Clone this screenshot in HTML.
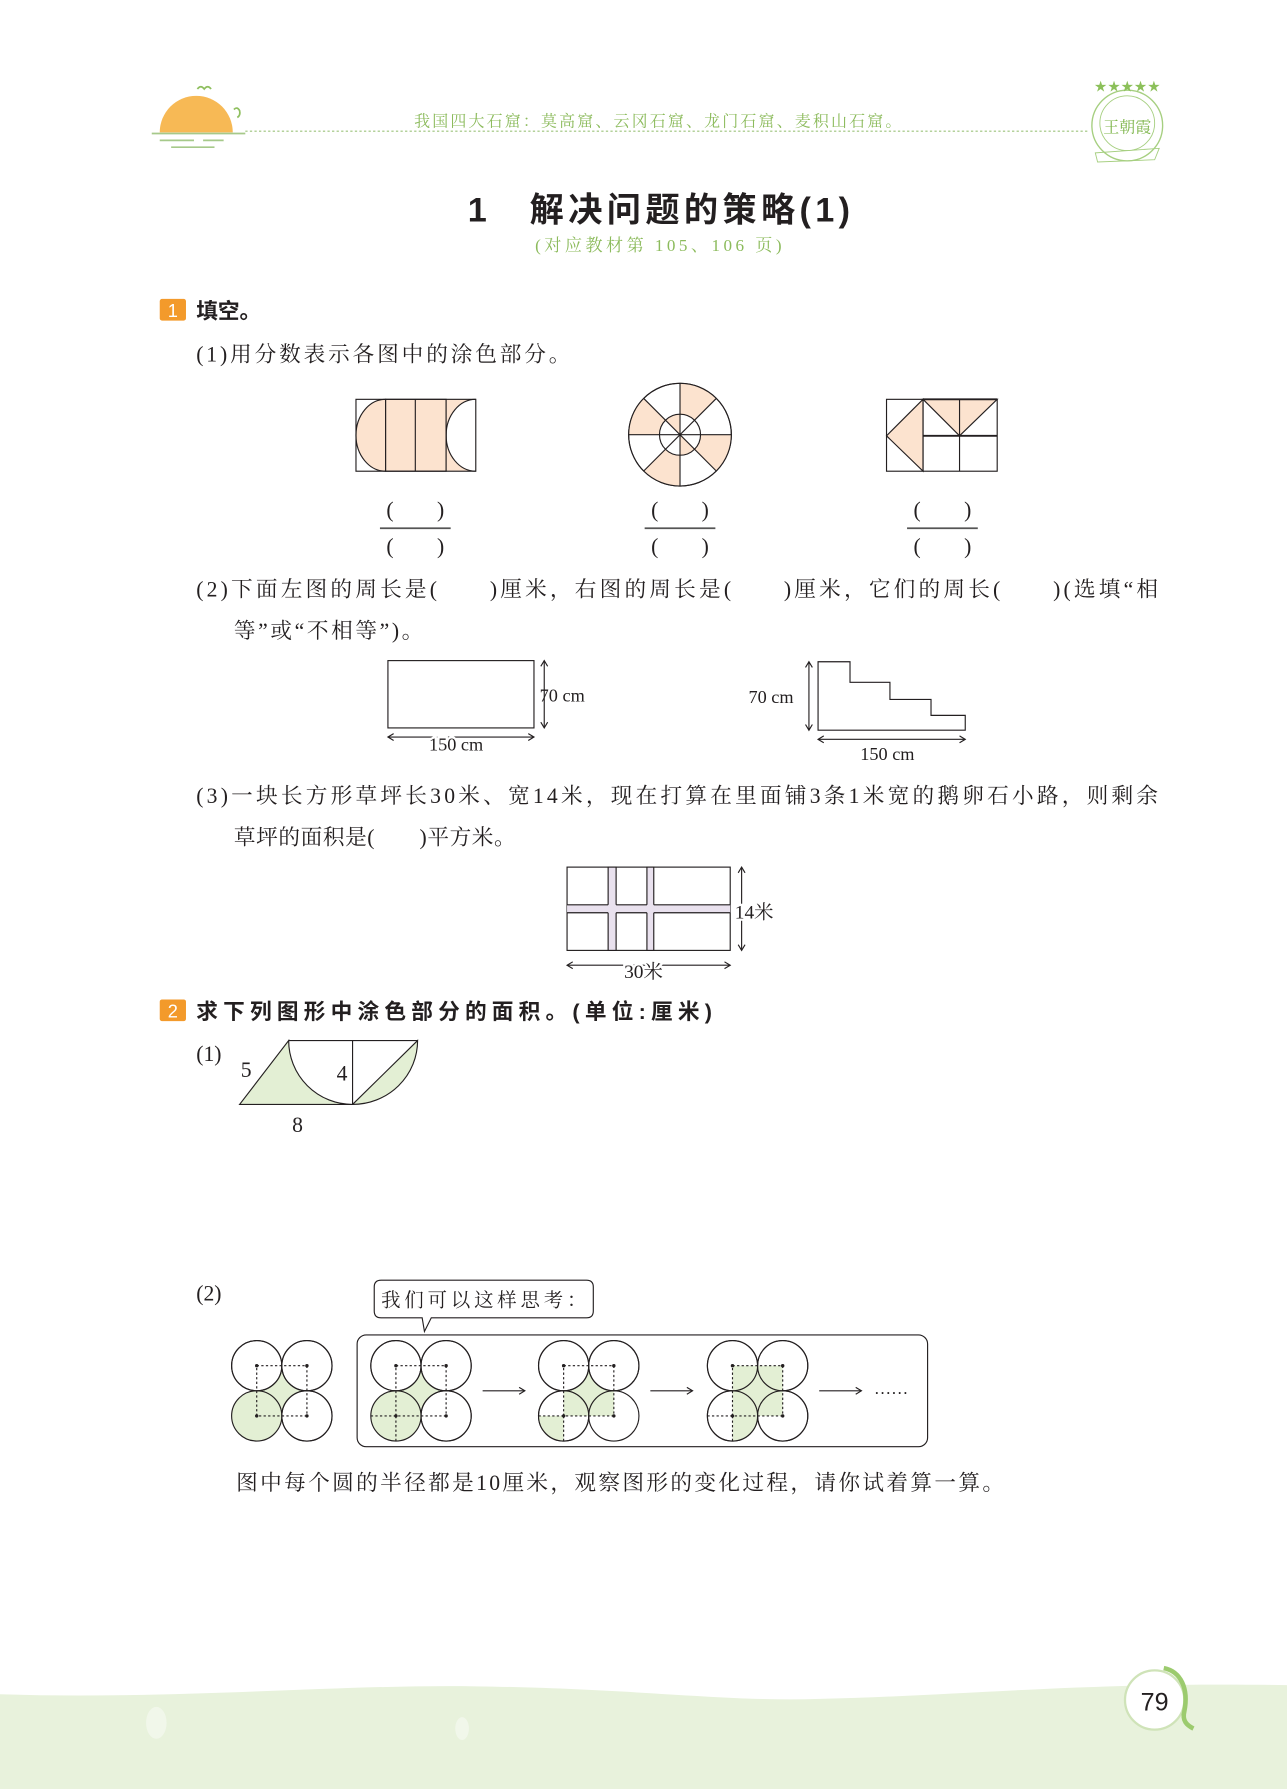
<!DOCTYPE html>
<html><head><meta charset="utf-8"><style>
html,body{margin:0;padding:0;background:#fff;}
svg{display:block;}
.t{font-family:"Liberation Serif","Noto Serif CJK SC",serif;fill:#231f20;}
.b{font-family:"Liberation Sans","Noto Sans CJK SC",sans-serif;font-weight:bold;fill:#231f20;}
</style></head><body>
<svg width="1287" height="1789" viewBox="0 0 1128 1568" xmlns="http://www.w3.org/2000/svg">
<path d="M0,1485 C150,1490 300,1476 417,1478 C560,1480 640,1492 719,1489 C850,1486 950,1474 1128,1477 L1128,1568 L0,1568 Z" fill="#e8f2dc"/>
<ellipse cx="137" cy="1510" rx="9" ry="14" fill="#f1f7ea"/>
<ellipse cx="405" cy="1515" rx="6" ry="10" fill="#f1f7ea"/>
<circle cx="1012" cy="1490" r="26" fill="#fff" stroke="#cfe3b8" stroke-width="2"/>
<path d="M1020,1462 C1035,1465 1042,1480 1038,1500 C1036,1508 1040,1512 1046,1515" fill="none" stroke="#9ccb6e" stroke-width="4"/>
<text x="1012" y="1499" text-anchor="middle" font-family="Liberation Sans, sans-serif" font-size="22" fill="#231f20">79</text>

<path d="M140,116 A32,32 0 0 1 204,116 Z" fill="#f7b955"/>
<line x1="133" y1="117" x2="215" y2="117" stroke="#a6c98a" stroke-width="1.5"/>
<line x1="140" y1="123" x2="170" y2="123" stroke="#a6c98a" stroke-width="1.5"/>
<line x1="178" y1="123" x2="196" y2="123" stroke="#a6c98a" stroke-width="1.5"/>
<line x1="150" y1="129" x2="188" y2="129" stroke="#a6c98a" stroke-width="1.5"/>
<path d="M173,78 q3,-4 6,0 q3,-4 6,0" fill="none" stroke="#8fbf5f" stroke-width="1.5"/>
<path d="M205,96 q3,-3 5,1 q1,4 -2,6" fill="none" stroke="#8fbf5f" stroke-width="1.5"/>
<line x1="215" y1="115" x2="955" y2="115" stroke="#9bc27a" stroke-width="1" stroke-dasharray="2,2"/>
<text x="363" y="111" textLength="427" lengthAdjust="spacing" font-family="Liberation Serif, Noto Serif CJK SC, serif" font-size="14" fill="#8cbb5c">我国四大石窟：莫高窟、云冈石窟、龙门石窟、麦积山石窟。</text>
<circle cx="988" cy="110" r="31" fill="none" stroke="#a6cf80" stroke-width="1.2"/>
<circle cx="988" cy="108" r="24" fill="none" stroke="#a6cf80" stroke-width="0.8"/>
<text x="988" y="80" text-anchor="middle" font-size="13" fill="#8cc05a" font-family="DejaVu Sans, sans-serif">★★★★★</text>
<text x="988" y="116" text-anchor="middle" font-family="Liberation Serif, Noto Serif CJK SC, serif" font-size="14" fill="#7fb64c">王朝霞</text>
<path d="M960,134 L1016,130 L1012,140 L962,142 Z" fill="none" stroke="#a6cf80" stroke-width="0.8"/>

<text x="410" y="194" textLength="335" lengthAdjust="spacing" class="b" font-size="30">1　解决问题的策略(1)</text>
<text x="469" y="220" textLength="216" lengthAdjust="spacing" font-family="Liberation Serif, Noto Serif CJK SC, serif" font-size="15" fill="#8cbb5c">(对应教材第 105、106 页)</text>

<rect x="140" y="262" width="23" height="19" rx="2" fill="#f39a2b"/>
<text x="151.5" y="278" text-anchor="middle" font-family="Liberation Sans, sans-serif" font-size="16" fill="#fff">1</text>
<text x="172" y="279" class="b" font-size="19">填空。</text>
<text x="172" y="317" textLength="328" lengthAdjust="spacing" class="t" font-size="19">(1)用分数表示各图中的涂色部分。</text>

<g stroke="#231f20" stroke-width="1">
<path d="M338,350 A26,31.5 0 0 0 338,413 Z" fill="#fce3cf"/>
<rect x="338" y="350" width="53" height="63" fill="#fce3cf"/>
<path d="M391,350 L417,350 A26,31.5 0 0 0 417,413 L391,413 Z" fill="#fce3cf" stroke="none"/>
<path d="M417,350 A26,31.5 0 0 0 417,413" fill="none"/>
<rect x="312" y="350" width="105" height="63" fill="none"/>
<line x1="364" y1="350" x2="364" y2="413"/><line x1="391" y1="350" x2="391" y2="413"/>
</g>
<g stroke="#231f20" stroke-width="1">
<circle cx="596" cy="381" r="45" fill="#fff"/>
<g fill="#fce3cf" stroke="none">
<path d="M627.8,349.2 A45,45 0 0 0 596,336 L596,363 A18,18 0 0 1 608.7,368.3 Z"/>
<path d="M564.2,349.2 A45,45 0 0 0 551,381 L578,381 A18,18 0 0 1 583.3,368.3 Z"/>
<path d="M627.8,412.8 A45,45 0 0 0 641,381 L614,381 A18,18 0 0 1 608.7,393.7 Z"/>
<path d="M564.2,412.8 A45,45 0 0 0 596,426 L596,399 A18,18 0 0 1 583.3,393.7 Z"/>
<path d="M596,381 L596,363 A18,18 0 0 0 583.3,368.3 Z"/>
<path d="M596,381 L596,399 A18,18 0 0 0 608.7,393.7 Z"/>
</g>
<circle cx="596" cy="381" r="45" fill="none"/>
<circle cx="596" cy="381" r="18" fill="none"/>
<line x1="596" y1="336" x2="596" y2="426"/><line x1="551" y1="381" x2="641" y2="381"/>
<line x1="564.2" y1="349.2" x2="627.8" y2="412.8"/><line x1="564.2" y1="412.8" x2="627.8" y2="349.2"/>
</g>
<g stroke="#231f20" stroke-width="1">
<rect x="777" y="350" width="97" height="63" fill="#fff"/>
<path d="M809,350 L777,382 L809,413 Z" fill="#fce3cf"/>
<path d="M809,350 L874,350 L841,382 Z" fill="#fce3cf"/>
<line x1="809" y1="350" x2="809" y2="413"/><line x1="841" y1="350" x2="841" y2="413"/>
<line x1="809" y1="382" x2="874" y2="382" stroke-width="1.6"/>
<line x1="809" y1="350" x2="874" y2="350" stroke-width="1.6"/>
</g>
<g class="t" font-size="19" text-anchor="middle">
<text x="364" y="453">(　　)</text><text x="364" y="485">(　　)</text>
<text x="596" y="453">(　　)</text><text x="596" y="485">(　　)</text>
<text x="826" y="453">(　　)</text><text x="826" y="485">(　　)</text>
</g>
<g stroke="#555" stroke-width="1.5">
<line x1="333" y1="463" x2="395" y2="463"/><line x1="565" y1="463" x2="627" y2="463"/><line x1="795" y1="463" x2="857" y2="463"/>
</g>

<text x="172" y="523" textLength="843" lengthAdjust="spacing" class="t" font-size="19">(2)下面左图的周长是(　　)厘米，右图的周长是(　　)厘米，它们的周长(　　)(选填“相</text>
<text x="205" y="559" textLength="166" lengthAdjust="spacing" class="t" font-size="19">等”或“不相等”)。</text>
<g stroke="#231f20" stroke-width="1" fill="none">
<rect x="340" y="579" width="128" height="59"/>
<line x1="477" y1="579" x2="477" y2="638"/><path d="M474,584 L477,579 L480,584 M474,633 L477,638 L480,633"/>
<line x1="340" y1="646" x2="468" y2="646"/><path d="M345,643 L340,646 L345,649 M463,643 L468,646 L463,649"/>
<path d="M717,580 L745,580 L745,598 L780,598 L780,613 L816,613 L816,627 L846,627 L846,640 L717,640 Z"/>
<line x1="709" y1="580" x2="709" y2="640"/><path d="M706,585 L709,580 L712,585 M706,635 L709,640 L712,635"/>
<line x1="717" y1="648" x2="846" y2="648"/><path d="M722,645 L717,648 L722,651 M841,645 L846,648 L841,651"/>
</g>
<g class="t" font-size="16">
<text x="473" y="615">70 cm</text>
<text x="376" y="658" style="paint-order:stroke" stroke="#fff" stroke-width="4">150 cm</text>
<text x="656" y="616">70 cm</text>
<text x="754" y="666">150 cm</text>
</g>

<text x="172" y="704" textLength="843" lengthAdjust="spacing" class="t" font-size="19">(3)一块长方形草坪长30米、宽14米，现在打算在里面铺3条1米宽的鹅卵石小路，则剩余</text>
<text x="205" y="740" textLength="247" lengthAdjust="spacing" class="t" font-size="19">草坪的面积是(　　)平方米。</text>
<g stroke="#231f20" stroke-width="1">
<rect x="497" y="760" width="143" height="73" fill="#fff"/>
<rect x="533" y="760" width="7" height="73" fill="#e9e1ee"/>
<rect x="567" y="760" width="6" height="73" fill="#e9e1ee"/>
<rect x="497" y="793" width="143" height="7" fill="#e9e1ee" stroke="none"/>
<path d="M497,793 H533 M540,793 H567 M573,793 H640 M497,800 H533 M540,800 H567 M573,800 H640" fill="none"/>
<line x1="650" y1="760" x2="650" y2="833"/><path d="M647,765 L650,760 L653,765 M647,828 L650,833 L653,828" fill="none"/>
<line x1="497" y1="846" x2="640" y2="846"/><path d="M502,843 L497,846 L502,849 M635,843 L640,846 L635,849" fill="none"/>
</g>
<text x="644" y="805" class="t" font-size="17" stroke="#fff" stroke-width="4" style="paint-order:stroke">14米</text>
<text x="547" y="857" class="t" font-size="17" stroke="#fff" stroke-width="4" style="paint-order:stroke">30米</text>

<rect x="140" y="876" width="23" height="19" rx="2" fill="#f39a2b"/>
<text x="151.5" y="892" text-anchor="middle" font-family="Liberation Sans, sans-serif" font-size="16" fill="#fff">2</text>
<text x="172" y="893" textLength="452" lengthAdjust="spacing" class="b" font-size="19">求下列图形中涂色部分的面积。(单位:厘米)</text>
<text x="172" y="930" class="t" font-size="19">(1)</text>
<g stroke="#231f20" stroke-width="1">
<path d="M210,968 L253,912 A56,56 0 0 0 309,968 Z" fill="#e3efd4"/>
<path d="M309,968 L366,912 A57,56 0 0 1 309,968 Z" fill="#e3efd4"/>
<line x1="253" y1="912" x2="366" y2="912"/>
<line x1="309" y1="912" x2="309" y2="968"/>
</g>
<g class="t" font-size="19"><text x="211" y="944">5</text><text x="295" y="947">4</text><text x="256" y="992">8</text></g>

<text x="172" y="1140" class="t" font-size="19">(2)</text>
<path d="M334,1122 H514 Q520,1122 520,1128 V1149 Q520,1155 514,1155 H378 L372,1167 L370,1155 H334 Q328,1155 328,1149 V1128 Q328,1122 334,1122 Z" fill="#fff" stroke="#231f20" stroke-width="1"/>
<text x="334" y="1145" textLength="180" lengthAdjust="spacing" class="t" font-size="17">我们可以这样思考：</text>
<rect x="313" y="1170" width="500" height="98" rx="8" fill="none" stroke="#231f20" stroke-width="1"/>

<g stroke="#231f20" stroke-width="1">
<rect x="225" y="1197" width="44" height="44" fill="#e3efd4" stroke="none"/>
<circle cx="225" cy="1197" r="22" fill="#fff"/><circle cx="269" cy="1197" r="22" fill="#fff"/><circle cx="269" cy="1241" r="22" fill="#fff"/>
<circle cx="225" cy="1241" r="22" fill="#e3efd4"/>
<circle cx="225" cy="1197" r="22" fill="none"/><circle cx="269" cy="1197" r="22" fill="none"/><circle cx="269" cy="1241" r="22" fill="none"/>
<rect x="225" y="1197" width="44" height="44" fill="none" stroke-dasharray="2,2"/>
</g>
<g stroke="#231f20" stroke-width="1">
<rect x="347" y="1197" width="44" height="44" fill="#e3efd4" stroke="none"/>
<circle cx="347" cy="1197" r="22" fill="#fff"/><circle cx="391" cy="1197" r="22" fill="#fff"/><circle cx="391" cy="1241" r="22" fill="#fff"/>
<circle cx="347" cy="1241" r="22" fill="#e3efd4"/>
<circle cx="347" cy="1197" r="22" fill="none"/><circle cx="391" cy="1197" r="22" fill="none"/><circle cx="391" cy="1241" r="22" fill="none"/>
<rect x="347" y="1197" width="44" height="44" fill="none" stroke-dasharray="2,2"/>
<path d="M325,1241 H347 M347,1241 V1263" fill="none" stroke-dasharray="2,2"/>
</g>
<g stroke="#231f20" stroke-width="1">
<rect x="494" y="1197" width="44" height="44" fill="#e3efd4" stroke="none"/>
<circle cx="494" cy="1197" r="22" fill="#fff"/><circle cx="538" cy="1197" r="22" fill="#fff"/>
<circle cx="494" cy="1241" r="22" fill="#fff"/>
<path d="M494,1241 L494,1219 A22,22 0 0 1 516,1241 Z" fill="#e3efd4" stroke="none"/>
<path d="M494,1241 L472,1241 A22,22 0 0 0 494,1263 Z" fill="#e3efd4" stroke="none"/>
<path d="M516,1219 L538,1219 L538,1241 L516,1241 Z" fill="#e3efd4" stroke="none"/>
<circle cx="494" cy="1197" r="22" fill="none"/><circle cx="538" cy="1197" r="22" fill="none"/><circle cx="538" cy="1241" r="22" fill="none"/><circle cx="494" cy="1241" r="22" fill="none"/>
<rect x="494" y="1197" width="44" height="44" fill="none" stroke-dasharray="2,2"/>
<path d="M472,1241 H494 M494,1241 V1263" fill="none" stroke-dasharray="2,2"/>
</g>
<g stroke="#231f20" stroke-width="1">
<circle cx="642" cy="1197" r="22" fill="#fff"/><circle cx="686" cy="1197" r="22" fill="#fff"/><circle cx="642" cy="1241" r="22" fill="#fff"/><circle cx="686" cy="1241" r="22" fill="#fff"/>
<rect x="642" y="1197" width="44" height="44" fill="#e3efd4" stroke="none"/>
<path d="M642,1241 L642,1263 A22,22 0 0 0 664,1241 Z" fill="#e3efd4" stroke="none"/>
<circle cx="642" cy="1197" r="22" fill="none"/><circle cx="686" cy="1197" r="22" fill="none"/><circle cx="642" cy="1241" r="22" fill="none"/><circle cx="686" cy="1241" r="22" fill="none"/>
<rect x="642" y="1197" width="44" height="44" fill="none" stroke-dasharray="2,2"/>
<path d="M620,1241 H642 M642,1241 V1263" fill="none" stroke-dasharray="2,2"/>
</g>
<g fill="#231f20" stroke="none">
<circle cx="225" cy="1197" r="1.5"/><circle cx="269" cy="1197" r="1.5"/><circle cx="225" cy="1241" r="1.5"/><circle cx="269" cy="1241" r="1.5"/>
<circle cx="347" cy="1197" r="1.5"/><circle cx="391" cy="1197" r="1.5"/><circle cx="347" cy="1241" r="1.5"/><circle cx="391" cy="1241" r="1.5"/>
<circle cx="494" cy="1197" r="1.5"/><circle cx="538" cy="1197" r="1.5"/><circle cx="494" cy="1241" r="1.5"/><circle cx="538" cy="1241" r="1.5"/>
<circle cx="642" cy="1197" r="1.5"/><circle cx="686" cy="1197" r="1.5"/><circle cx="642" cy="1241" r="1.5"/><circle cx="686" cy="1241" r="1.5"/>
</g>
<g stroke="#231f20" stroke-width="1" fill="none">
<line x1="423" y1="1219" x2="460" y2="1219"/><path d="M455,1216 L460,1219 L455,1222"/>
<line x1="570" y1="1219" x2="607" y2="1219"/><path d="M602,1216 L607,1219 L602,1222"/>
<line x1="718" y1="1219" x2="755" y2="1219"/><path d="M750,1216 L755,1219 L750,1222"/>
</g>
<text x="766" y="1222" class="t" font-size="15">……</text>
<text x="207" y="1306" textLength="673" lengthAdjust="spacing" class="t" font-size="19">图中每个圆的半径都是10厘米，观察图形的变化过程，请你试着算一算。</text>
</svg>
</body></html>
